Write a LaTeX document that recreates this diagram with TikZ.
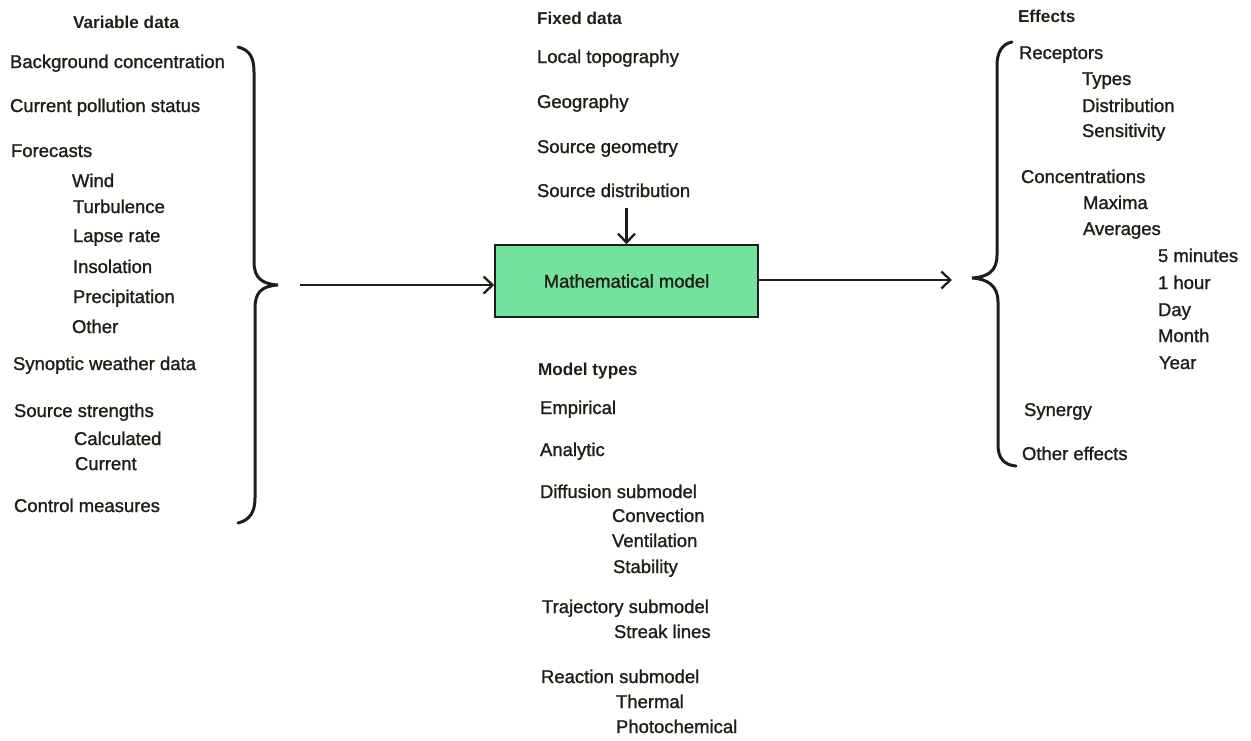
\documentclass[tikz,border=0pt]{standalone}
\usepackage{fontspec}
\setmainfont{Liberation Sans}
\newfontfamily\medfont{Liberation Sans}[FakeBold=1.2]
\usetikzlibrary{arrows.meta}
\definecolor{ink}{RGB}{30,30,22}
\definecolor{boxgreen}{RGB}{116,226,158}
\tikzset{
  txt/.style={anchor=base west, inner sep=0pt, outer sep=0pt, text=ink, font=\fontsize{18.5}{20}\medfont},
  hdr/.style={anchor=base west, inner sep=0pt, outer sep=0pt, text=ink, font=\fontsize{17.2}{20}\selectfont\bfseries},
  brace/.style={draw=ink, line width=3pt, line cap=round},
  conn/.style={draw=ink, line width=2.3pt, -{Straight Barb[length=9pt,width=17pt,line width=2.3pt]}},
  modelbox/.style={draw=ink, line width=1.5pt, fill=boxgreen, minimum width=263pt, minimum height=72pt, inner sep=0pt, text=ink, font=\fontsize{18.5}{20}\medfont}
}
\begin{document}
\begin{tikzpicture}[x=1pt, y=-1pt]
\useasboundingbox (0,0) rectangle (1251,740);
% Left column
\node[hdr] (vh) at (73,28) {Variable data};
\node[txt] (v1) at (10,68) {Background concentration};
\node[txt] (v2) at (10,112) {Current pollution status};
\node[txt] (v3) at (11,157) {Forecasts};
\node[txt] (v4) at (72,187) {Wind};
\node[txt] (v5) at (73,213) {Turbulence};
\node[txt] (v6) at (73,242) {Lapse rate};
\node[txt] (v7) at (73,273) {Insolation};
\node[txt] (v8) at (73,303) {Precipitation};
\node[txt] (v9) at (72,333) {Other};
\node[txt] (v10) at (13,370) {Synoptic weather data};
\node[txt] (v11) at (14,417) {Source strengths};
\node[txt] (v12) at (74,445) {Calculated};
\node[txt] (v13) at (75,470) {Current};
\node[txt] (v14) at (14,512) {Control measures};
% Left brace
\draw[brace] (238,47) .. controls (250,50) and (254,58) .. (254,72) -- (254,262)
  .. controls (254,278) and (262,284) .. (278,285)
  .. controls (262,286) and (255,292) .. (255,308) -- (255,498)
  .. controls (255,512) and (250,520) .. (238,523);
% Middle column
\node[hdr] (fh) at (537,24) {Fixed data};
\node[txt] (f1) at (537,63) {Local topography};
\node[txt] (f2) at (537,108) {Geography};
\node[txt] (f3) at (537,153) {Source geometry};
\node[txt] (f4) at (537,197) {Source distribution};
\node[modelbox] (mm) at (626.5,281) {Mathematical model};
\node[hdr] (mh) at (538,375) {Model types};
\node[txt] (m1) at (540,414) {Empirical};
\node[txt] (m2) at (540,456) {Analytic};
\node[txt] (m3) at (540,498) {Diffusion submodel};
\node[txt] (m4) at (612,522) {Convection};
\node[txt] (m5) at (612,547) {Ventilation};
\node[txt] (m6) at (613,573) {Stability};
\node[txt] (m7) at (542,613) {Trajectory submodel};
\node[txt] (m8) at (614,638) {Streak lines};
\node[txt] (m9) at (541,683) {Reaction submodel};
\node[txt] (m10) at (616,708) {Thermal};
\node[txt] (m11) at (616,733) {Photochemical};
% Right column
\node[hdr] (eh) at (1018,22) {Effects};
\node[txt] (e1) at (1019,59) {Receptors};
\node[txt] (e2) at (1082,85) {Types};
\node[txt] (e3) at (1082,112) {Distribution};
\node[txt] (e4) at (1082,137) {Sensitivity};
\node[txt] (e5) at (1021,183) {Concentrations};
\node[txt] (e6) at (1083,209) {Maxima};
\node[txt] (e7) at (1083,235) {Averages};
\node[txt] (e8) at (1158,262) {5 minutes};
\node[txt] (e9) at (1158,289) {1 hour};
\node[txt] (e10) at (1158,316) {Day};
\node[txt] (e11) at (1158,342) {Month};
\node[txt] (e12) at (1159,369) {Year};
\node[txt] (e13) at (1024,416) {Synergy};
\node[txt] (e14) at (1022,460) {Other effects};
% Right brace
\draw[brace] (1012,42) .. controls (1002,44) and (997,52) .. (997,66) -- (997,255)
  .. controls (997,271) and (988,277) .. (972,278)
  .. controls (988,279) and (998,286) .. (998,302) -- (998,445)
  .. controls (998,458) and (1004,465) .. (1016,466);
% Connectors
\coordinate (la) at (300,285);
\coordinate (ra) at (952,280);
\draw[conn] (la) -- (la -| mm.west);
\draw[conn] (f4.south -| mm.north) ++(0,11) -- (mm.north);
\draw[conn] (ra -| mm.east) -- (ra);
\end{tikzpicture}
\end{document}
